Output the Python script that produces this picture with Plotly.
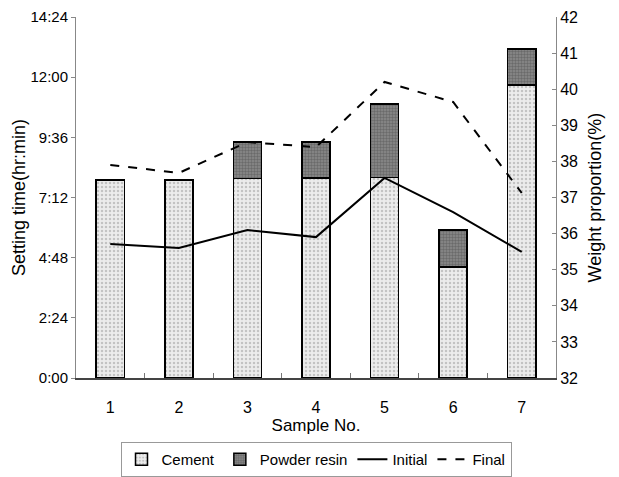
import plotly.graph_objects as go

samples = ["1", "2", "3", "4", "5", "6", "7"]
# setting time in hours (left axis)
cement = [7.9, 7.9, 7.95, 7.98, 8.0, 4.43, 11.69]
powder_resin = [0, 0, 1.46, 1.43, 2.93, 1.47, 1.43]
initial = [5.35, 5.19, 5.90, 5.62, 7.98, 6.62, 5.03]
final = [8.50, 8.18, 9.41, 9.21, 11.81, 11.01, 7.38]
left_ticks = [0, 2.4, 4.8, 7.2, 9.6, 12.0, 14.4]
left_labels = ["0:00", "2:24", "4:48", "7:12", "9:36", "12:00", "14:24"]
right_ticks = list(range(32, 43))

FONT = "Liberation Sans, Arial, sans-serif"

fig = go.Figure()
fig.add_trace(go.Bar(
    x=samples, y=cement, name="Cement",
    marker=dict(color="#ececec", line=dict(color="black", width=1.5),
                pattern=dict(shape=".", fgcolor="#9a9a9a", size=4, solidity=0.3)),
    width=0.41,
))
fig.add_trace(go.Bar(
    x=samples, y=powder_resin, name="Powder resin",
    marker=dict(color="#8a8a8a", line=dict(color="black", width=1.5),
                pattern=dict(shape=".", fgcolor="#4a4a4a", size=3, solidity=0.5)),
    width=0.41,
))
fig.add_trace(go.Scatter(
    x=samples, y=initial, name="Initial", mode="lines",
    line=dict(color="black", width=2),
))
fig.add_trace(go.Scatter(
    x=samples, y=final, name="Final", mode="lines",
    line=dict(color="black", width=2, dash="dash"),
))
fig.add_trace(go.Scatter(x=[samples[0]], y=[None], yaxis="y2", showlegend=False,
                         hoverinfo="skip", mode="markers"))

fig.update_layout(
    barmode="stack",
    width=619, height=477,
    margin=dict(l=76, r=63, t=17, b=99, autoexpand=False),
    paper_bgcolor="white", plot_bgcolor="white",
    font=dict(family=FONT, size=16, color="black"),
    showlegend=True,
    legend=dict(orientation="h", x=0.5, xanchor="center", y=-0.177, yanchor="top",
                bordercolor="#999999", borderwidth=1, font=dict(size=15),
                itemwidth=30, traceorder="normal"),
    xaxis=dict(
        title=dict(text="Sample No.", standoff=4, font=dict(size=17)),
        showline=True, linecolor="#444444", linewidth=1.5,
        ticks="inside", tickson="boundaries", ticklen=5, tickcolor="#777777",
        ticklabelstandoff=14,
        showgrid=False, mirror=False,
    ),
    yaxis=dict(
        title=dict(text="Setting time(hr:min)", standoff=0, font=dict(size=18)),
        range=[0, 14.4], tickvals=left_ticks, ticktext=left_labels,
        tickfont=dict(size=15),
        showline=True, linecolor="#888888", linewidth=1,
        ticks="outside", ticklen=4, tickcolor="#888888",
        showgrid=False, zeroline=False,
    ),
    yaxis2=dict(
        title=dict(text="Weight proportion(%)", standoff=11, font=dict(size=18)),
        range=[32, 42], tickvals=right_ticks, overlaying="y", side="right",
        tickfont=dict(size=16),
        showline=True, linecolor="#888888", linewidth=1,
        ticks="inside", ticklen=4, tickcolor="#888888",
        showgrid=False, zeroline=False,
    ),
)

fig.write_html("out.html")
